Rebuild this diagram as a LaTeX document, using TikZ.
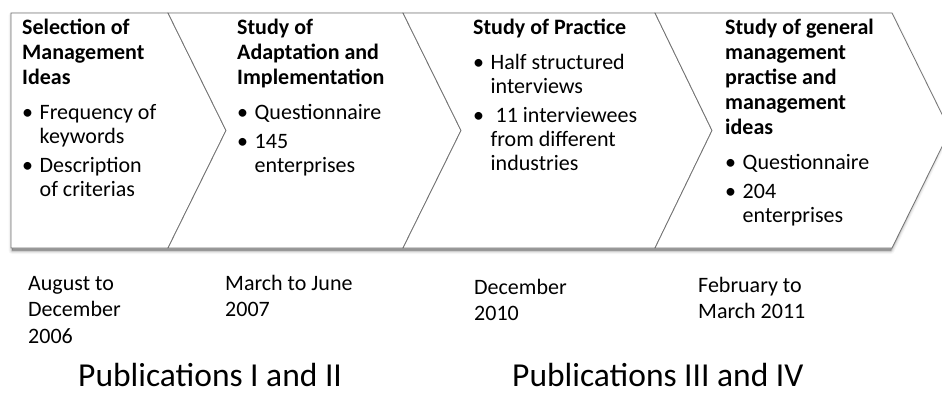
\documentclass[tikz,border=0pt]{standalone}
\usepackage{fontspec}
\setmainfont{Carlito}

% bullet item with hanging indent (lines inside an item are split with \newline)
\newcommand\bpt[1]{\par\hangindent=17.5pt\hangafter=1\noindent\makebox[17.5pt][l]{\textbullet}#1\par}
% block of text whose first baseline is the node's base anchor
\newcommand\stagetext[2]{\parbox[t]{210pt}{\raggedright
  \fontsize{22}{25}\selectfont\bfseries #1\par
  \fontsize{22}{24}\selectfont\mdseries\vspace{11pt}#2}}
\newcommand\datetext[1]{\parbox[t]{200pt}{\raggedright\fontsize{22}{26.5}\selectfont #1}}

\begin{document}
\begin{tikzpicture}[x=1pt,y=-1pt,
  stage/.style={fill=white,draw=black!55,line width=0.8pt,line join=miter},
  stagelabel/.style={anchor=base west,inner sep=0pt},
  datelabel/.style={anchor=base west,inner sep=0pt},
  publabel/.style={anchor=base west,inner sep=0pt,text depth=0pt,font=\fontsize{33.5}{38}\selectfont}]
\useasboundingbox (0,0) rectangle (942,393);
\begin{scope}
\clip (0,0) rectangle (942,393);
% soft shadow below the row of stages
\foreach \w/\o in {7/0.03,5/0.05,3/0.08,1.5/0.12}
  \draw[line width=\w pt,black,opacity=\o,line join=round]
    (12,15.5) -- (891,15.5) -- (948,132) -- (891,250.5) -- (12,250.5) -- cycle;
\fill[black,opacity=0.3] (12,15.5) -- (891,15.5) -- (948,132) -- (891,250.5) -- (12,250.5) -- cycle;
% the four stages
\draw[stage] (11,13) -- (168,13) -- (226,130.5) -- (168,248) -- (11,248) -- cycle;
\draw[stage] (168,13) -- (403,13) -- (461,130.5) -- (403,248) -- (168,248) -- (226,130.5) -- cycle;
\draw[stage] (403,13) -- (655,13) -- (712,130.5) -- (655,248) -- (403,248) -- (461,130.5) -- cycle;
\draw[stage] (655,13) -- (892,13) -- (950,130.5) -- (892,248) -- (655,248) -- (712,130.5) -- cycle;
\end{scope}

\node[stagelabel] (s1) at (22,35) {\stagetext{Selection of\\Management\\Ideas}
  {\bpt{Frequency of\newline keywords}\vspace{5pt}\bpt{Description\newline of criterias}}};
\node[stagelabel] (s2) at (237,35) {\stagetext{Study of\\Adaptation and\\Implementation}
  {\bpt{Questionnaire}\vspace{5pt}\bpt{145\newline enterprises}}};
\node[stagelabel] (s3) at (473,35) {\stagetext{Study of Practice}
  {\bpt{Half structured\newline interviews}\vspace{5pt}\bpt{\ 11 interviewees\newline from different\newline industries}}};
\node[stagelabel] (s4) at (725,35) {\stagetext{Study of general\\management\\practise and\\management\\ideas}
  {\bpt{Questionnaire}\vspace{5pt}\bpt{204\newline enterprises}}};

\node[datelabel] (d1) at (28,290) {\datetext{August to\\December\\2006}};
\node[datelabel] (d2) at (225,290) {\datetext{March to June\\2007}};
\node[datelabel] (d3) at (474,294) {\datetext{December\\2010}};
\node[datelabel] (d4) at (698,292) {\datetext{February to\\March 2011}};

\node[publabel] (p1) at (78,386) {Publications I and II};
\node[publabel] (p2) at (512,386) {Publications III and IV};
\end{tikzpicture}
\end{document}
